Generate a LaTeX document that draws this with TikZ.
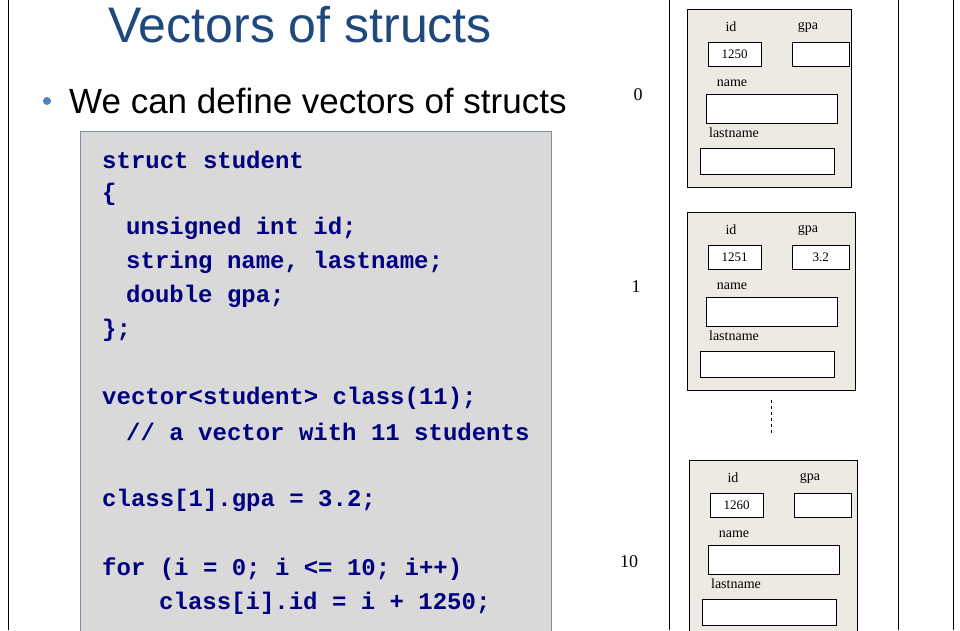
\documentclass[tikz,border=0pt]{standalone}
\usepackage{fontspec}
\setmainfont{Liberation Serif}
\newfontfamily\slidefont{Liberation Sans}
\newfontfamily\codefont{Liberation Mono}
\definecolor{titleblue}{HTML}{1F497D}
\definecolor{bulletblue}{HTML}{4F81BD}
\definecolor{codeblue}{HTML}{000080}
\definecolor{codebg}{HTML}{D9D9D9}
\definecolor{recbg}{HTML}{ECEAE2}
\definecolor{codeedge}{HTML}{7F8FA9}
\tikzstyle{slide}=[x=1pt, y=-1pt, font=\rmfamily]
\tikzstyle{code}=[anchor=west, inner sep=0pt, font=\codefont\bfseries\fontsize{24}{24}\selectfont, text=codeblue]
\tikzstyle{rec}=[draw, fill=recbg, anchor=north west, inner sep=0pt]
\tikzstyle{field}=[draw, fill=white, anchor=north west, inner sep=0pt, font=\fontsize{13}{13}\selectfont]
\tikzstyle{flabel}=[inner sep=0pt, font=\fontsize{14}{14}\selectfont]
\tikzstyle{idx}=[inner sep=0pt, font=\fontsize{18}{18}\selectfont]
\tikzstyle{frame}=[-, thin]
\newcommand{\ind}[1]{\hspace*{#1pt}}
\begin{document}
\begin{tikzpicture}[slide]
	\useasboundingbox (0,0) rectangle (960,630);
	% slide frame
	\draw[frame] (8,0) -- (8,630);
	\draw[frame] (669,0) -- (669,630);
	\draw[frame] (898,0) -- (898,630);
	\draw[frame] (953,0) -- (953,630);
	%%
	\node[text=titleblue, font=\slidefont\fontsize{50}{50}\selectfont] (title) at (300,25) {Vectors of structs};
	\fill[bulletblue] (47,101) circle (4);
	\node[anchor=west, inner sep=0pt, font=\slidefont\fontsize{35}{35}\selectfont] (bullet) at (69,101) {We can define vectors of structs};
	%%
	\draw[draw=codeedge, fill=codebg] (80,131) rectangle (551,631);
	\node[code] (c1) at (102,160) {struct student};
	\node[code] (c2) at (102,194) {\{};
	\node[code] (c3) at (102,228) {\ind{24}unsigned int id;};
	\node[code] (c4) at (102,262) {\ind{24}string name, lastname;};
	\node[code] (c5) at (102,296) {\ind{24}double gpa;};
	\node[code] (c6) at (102,330) {\};};
	\node[code] (c7) at (102,398) {vector<student> class(11);};
	\node[code] (c8) at (102,432) {\ind{24}// a vector with 11 students};
	\node[code] (c9) at (102,500) {class[1].gpa = 3.2;};
	\node[code] (c10) at (102,569) {for (i = 0; i <= 10; i++)};
	\node[code] (c11) at (102,603) {\ind{57}class[i].id = i + 1250;};
	%%
	\node[idx] (i0) at (638,95) {0};
	\node[idx] (i1) at (636,287) {1};
	\node[idx] (i10) at (629,562) {10};
	%%
	\foreach \n/\dx/\dy/\w/\idv/\gpav in {a/0/0/164/1250/, b/0/203/168/1251/3.2, c/2/451/168/1260/}{
		\begin{scope}[shift={(\dx,\dy)}]
			\node[rec, minimum width=\w, minimum height=178] (rec\n) at (687,9) {};
			\node[flabel] (lid\n) at (731,27) {id};
			\node[flabel] (lgpa\n) at (808,27) {gpa};
			\node[field, minimum width=53, minimum height=24] (id\n) at (708,42) {\idv};
			\node[field, minimum width=57, minimum height=24] (gpa\n) at (792,42) {\gpav};
			\node[flabel] (lname\n) at (732,83) {name};
			\node[field, minimum width=131, minimum height=29] (name\n) at (706,94) {};
			\node[flabel] (llast\n) at (734,133) {lastname};
			\node[field, minimum width=134, minimum height=26] (last\n) at (700,148) {};
		\end{scope}
	}
	\draw[dashed] (771,400) -- (771,435);
\end{tikzpicture}
\end{document}
